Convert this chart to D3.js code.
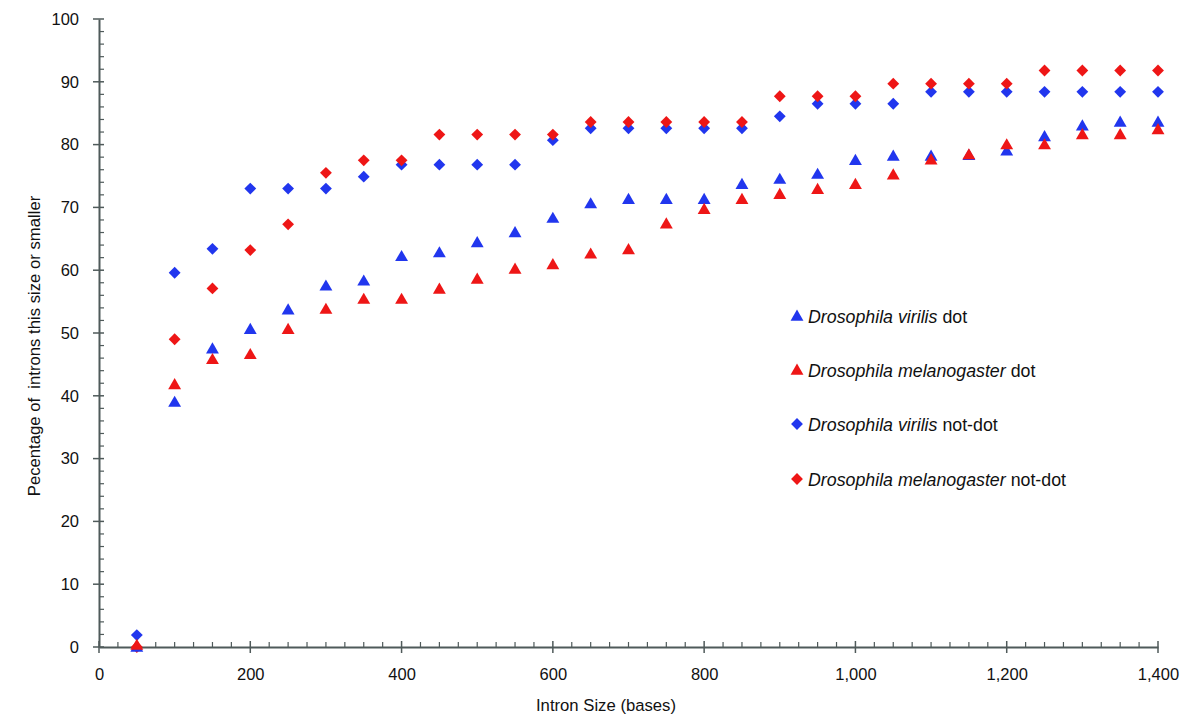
<!DOCTYPE html>
<html>
<head>
<meta charset="utf-8">
<script src="https://cdn.jsdelivr.net/npm/d3@7"></script>
<style>
  html, body { margin: 0; padding: 0; background: #fff; }
  svg { display: block; font-family: "Liberation Sans", Arial, Helvetica, sans-serif; }
</style>
</head>
<body>
<svg id="chart" width="1200" height="724"></svg>
<script>
// ---- data ----
const intronSizes = [50,100,150,200,250,300,350,400,450,500,550,600,650,700,750,800,850,900,950,1000,1050,1100,1150,1200,1250,1300,1350,1400];
const virilisDot = [0,39.0,47.5,50.6,53.7,57.5,58.3,62.2,62.8,64.4,66.0,68.3,70.6,71.3,71.3,71.3,73.7,74.5,75.3,77.5,78.2,78.2,78.3,79.0,81.3,83.0,83.6,83.6];
const melanoDot = [0.3,41.8,45.8,46.6,50.6,53.8,55.4,55.4,57.0,58.6,60.2,60.9,62.6,63.3,67.4,69.7,71.3,72.1,72.9,73.7,75.2,77.6,78.4,80.0,80.0,81.6,81.6,82.4];
const virilisNotDot = [1.9,59.6,63.4,73.0,73.0,73.0,74.9,76.8,76.8,76.8,76.8,80.7,82.6,82.6,82.6,82.6,82.6,84.5,86.5,86.5,86.5,88.4,88.4,88.4,88.4,88.4,88.4,88.4];
const melanoNotDot = [0,49.0,57.1,63.2,67.3,75.5,77.5,77.5,81.6,81.6,81.6,81.6,83.6,83.6,83.6,83.6,83.6,87.7,87.7,87.7,89.7,89.7,89.7,89.7,91.8,91.8,91.8,91.8];
const xTicks = [0,200,400,600,800,1000,1200,1400];
const yTicks = [0,10,20,30,40,50,60,70,80,90,100];
const seriesNames = ["Drosophila virilis", "Drosophila melanogaster", "Drosophila virilis", "Drosophila melanogaster"];
const seriesSuffix = [" dot", " dot", " not-dot", " not-dot"];
const xTitle = "Intron Size (bases)";
const yTitle = "Pecentage of  introns this size or smaller";

// ---- styles ----
const BLUE = "#2136ee", RED = "#ee1616", AXIS = "#4f5a5a";
const series = [
  {name: seriesNames[0], suffix: seriesSuffix[0], values: virilisDot, color: BLUE, shape: "tri"},
  {name: seriesNames[1], suffix: seriesSuffix[1], values: melanoDot, color: RED, shape: "tri"},
  {name: seriesNames[2], suffix: seriesSuffix[2], values: virilisNotDot, color: BLUE, shape: "dia"},
  {name: seriesNames[3], suffix: seriesSuffix[3], values: melanoNotDot, color: RED, shape: "dia"}
];
const drawOrder = [2, 3, 0, 1];

const svg = d3.select("#chart");
const x = d3.scaleLinear().domain([0, 1400]).range([99, 1158]);
const y = d3.scaleLinear().domain([0, 100]).range([647, 19]);

const triPath = d3.symbol().type(d3.symbolTriangle).size(72)();
const diaPath = d3.symbol().type(d3.symbolSquare).size(70)();
function markerPath(shape) { return shape === "tri" ? triPath : diaPath; }
function markerTransform(shape, px, py) {
  return shape === "tri" ? `translate(${px},${py + 1})` : `translate(${px},${py}) rotate(45)`;
}

// ---- axes ----
const gAxes = svg.append("g");
const yAx = d3.axisLeft(y).tickValues(yTicks).tickSizeInner(0).tickSizeOuter(0).tickPadding(20);
const gy = gAxes.append("g").attr("transform", "translate(99,0)").call(yAx);
gy.select(".domain").attr("stroke", AXIS).attr("stroke-width", 2);
gy.selectAll("text").attr("font-size", 16.5).attr("fill", "#111");
gAxes.append("g").selectAll("line").data(yTicks).join("line")
  .attr("x1", 93).attr("x2", 104).attr("y1", d => y(d)).attr("y2", d => y(d))
  .attr("stroke", AXIS).attr("stroke-width", 1.5);
gAxes.append("g").selectAll("line").data(d3.range(0, 101, 2).filter(v => v % 10 !== 0)).join("line")
  .attr("x1", 99).attr("x2", 104).attr("y1", d => y(d)).attr("y2", d => y(d))
  .attr("stroke", AXIS).attr("stroke-width", 1.2);

const xAx = d3.axisBottom(x).tickValues(xTicks).tickSizeInner(0).tickSizeOuter(0).tickPadding(21)
  .tickFormat(d3.format(","));
const gx = gAxes.append("g").attr("transform", "translate(0,647)").call(xAx);
gx.select(".domain").attr("stroke", AXIS).attr("stroke-width", 2);
gx.selectAll("text").attr("font-size", 16.5).attr("fill", "#111");
gAxes.append("g").selectAll("line").data(xTicks).join("line")
  .attr("x1", d => x(d)).attr("x2", d => x(d)).attr("y1", 641).attr("y2", 653)
  .attr("stroke", AXIS).attr("stroke-width", 1.5);
gAxes.append("g").selectAll("line").data(d3.range(0, 1401, 25).filter(v => v % 200 !== 0)).join("line")
  .attr("x1", d => x(d)).attr("x2", d => x(d)).attr("y1", 642).attr("y2", 647)
  .attr("stroke", AXIS).attr("stroke-width", 1.2);

// titles
svg.append("text").attr("x", 606).attr("y", 711).attr("text-anchor", "middle")
  .attr("font-size", 16.7).attr("fill", "#111").text(xTitle);
svg.append("text").attr("transform", "translate(40,346) rotate(-90)").attr("text-anchor", "middle")
  .attr("font-size", 16.7).attr("fill", "#111").style("white-space", "pre").text(yTitle);

// ---- marks ----
drawOrder.forEach(i => {
  const s = series[i];
  svg.append("g").selectAll("path").data(intronSizes.map((v, k) => [v, s.values[k]])).join("path")
    .attr("d", markerPath(s.shape))
    .attr("transform", d => markerTransform(s.shape, x(d[0]), y(d[1])))
    .attr("fill", s.color);
});

// ---- legend ----
const legendY = [316, 370, 424, 479];
const lg = svg.append("g");
series.forEach((s, i) => {
  lg.append("path").attr("d", markerPath(s.shape))
    .attr("transform", s.shape === "tri" ? `translate(797,${legendY[i] + 1})` : `translate(797,${legendY[i]}) rotate(45)`)
    .attr("fill", s.color);
  const t = lg.append("text").attr("x", 808).attr("y", legendY[i] + 6.5).attr("font-size", 17.8).attr("fill", "#111");
  t.append("tspan").attr("font-style", "italic").text(s.name);
  t.append("tspan").text(s.suffix);
});
</script>
</body>
</html>
